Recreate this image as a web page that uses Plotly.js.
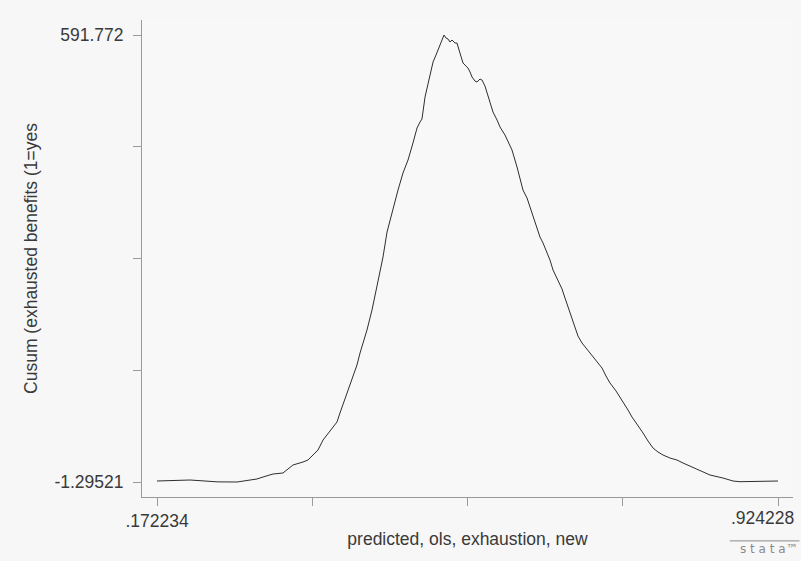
<!DOCTYPE html>
<html>
<head>
<meta charset="utf-8">
<script src="https://cdn.plot.ly/plotly-3.0.1.min.js"></script>
<style>html,body{margin:0;padding:0;background:#f7f7f7;}#chart{width:801px;height:561px;}</style>
</head>
<body>
<div id="chart"></div>
<script>
// predicted, ols, exhaustion, new
const predicted = [
0.1722,0.1940,0.2122,0.2304,0.2449,0.2691,0.2849,0.2933,0.3006,0.3127,
0.3248,0.3309,0.3369,0.3490,0.3551,0.3611,0.3672,0.3733,0.3781,0.3854,
0.3902,0.3938,0.3987,0.4023,0.4059,0.4096,0.4144,0.4181,0.4229,0.4265,
0.4326,0.4386,0.4423,0.4459,0.4508,0.4544,0.4580,0.4641,0.4701,0.4762,
0.4822,0.4871,0.4907,0.4931,0.4968,0.5004,0.5040,0.5065,0.5101,0.5125,
0.5149,0.5174,0.5198,0.5222,0.5246,0.5270,0.5295,0.5331,0.5355,0.5391,
0.5428,0.5464,0.5488,0.5513,0.5537,0.5573,0.5597,0.5634,0.5658,0.5694,
0.5718,0.5755,0.5791,0.5840,0.5876,0.5936,0.5973,0.6021,0.6082,0.6118,
0.6154,0.6203,0.6239,0.6300,0.6360,0.6397,0.6445,0.6481,0.6518,0.6578,
0.6627,0.6663,0.6699,0.6748,0.6784,0.6820,0.6869,0.6917,0.6966,0.7038,
0.7111,0.7159,0.7208,0.7281,0.7353,0.7426,0.7474,0.7535,0.7608,0.7668,
0.7729,0.7789,0.7850,0.7934,0.8019,0.8092,0.8177,0.8298,0.8419,0.8576,
0.8697,0.8782,0.8903,0.8988,0.9121,0.9242
];
// Cusum (exhausted benefits (1=yes
const cusum = [
0.03,0.69,1.36,0.03,-1.10,-1.30,0.69,2.69,5.34,9.32,
10.65,15.95,21.26,25.24,27.89,34.53,41.16,54.43,61.06,70.35,
78.31,90.25,104.85,116.79,127.40,138.02,153.94,169.86,187.11,200.38,
226.91,257.42,279.98,297.23,330.40,346.32,359.58,386.12,408.68,425.93,
448.48,468.38,476.34,480.32,509.51,528.08,542.68,555.95,565.24,571.87,
578.50,585.14,591.77,587.79,586.46,582.48,585.14,581.16,581.16,567.89,
554.62,550.64,547.99,542.68,536.04,530.73,529.41,533.39,532.06,524.10,
514.82,501.55,489.61,478.99,469.71,459.09,451.13,439.19,416.64,402.04,
386.12,375.50,363.56,342.34,323.76,315.80,302.53,293.24,279.98,266.72,
254.77,242.83,230.89,216.29,204.35,192.41,183.12,176.49,169.86,160.57,
149.96,139.34,130.05,119.44,107.50,94.23,84.94,75.66,63.72,53.10,
43.81,38.51,34.53,30.55,27.89,23.91,19.93,14.63,7.99,4.01,
0.03,-0.90,-0.60,-0.20,-0.10,0.00
];
const xTickVals = [0.172234, 0.3602325, 0.548231, 0.7362295, 0.924228];
const xTickText = ['.172234', '', '', '', ''];
const xLastLabel = '.924228';
const yTickVals = [-1.29521, 146.97159, 295.23839, 443.50520, 591.772];
const yTickText = ['-1.29521', '', '', '', '591.772'];

const font = {family: 'Liberation Sans, Arial, sans-serif', size: 17.5, color: '#3a3a3a'};

Plotly.newPlot('chart', [{
  x: predicted, y: cusum, type: 'scatter', mode: 'lines',
  line: {color: '#2e2e2e', width: 1}, hoverinfo: 'skip'
}], {
  width: 801, height: 561,
  margin: {l: 142, r: 8, t: 20, b: 64, pad: 0},
  paper_bgcolor: '#f7f7f7', plot_bgcolor: '#f8f8f8',
  showlegend: false,
  font: font,
  xaxis: {
    range: [0.15407, 0.94239], showgrid: false, zeroline: false,
    showline: true, linecolor: '#9a9a9a', linewidth: 1,
    ticks: 'outside', ticklen: 8, tickcolor: '#9a9a9a', tickwidth: 1,
    tickmode: 'array', tickvals: xTickVals, ticktext: xTickText,
    tickfont: font, ticklabelstandoff: 0,
    title: {text: 'predicted, ols, exhaustion, new', font: font, standoff: 2}
  },
  yaxis: {
    range: [-21.2, 611.7], showgrid: false, zeroline: false,
    showline: true, linecolor: '#9a9a9a', linewidth: 1,
    ticks: 'outside', ticklen: 8, tickcolor: '#9a9a9a', tickwidth: 1,
    tickmode: 'array', tickvals: yTickVals, ticktext: yTickText,
    tickfont: font, ticklabelstandoff: 6,
    title: {text: 'Cusum (exhausted benefits (1=yes', font: font, standoff: 12}
  },
  shapes: [
    {type: 'line', xref: 'paper', yref: 'paper', x0: 0.903, x1: 1.01, y0: -0.092, y1: -0.092, line: {color: '#8a8a8a', width: 1}}
  ],
  annotations: [
    {
      xref: 'x', yref: 'paper', x: xTickVals[4], y: 0, xanchor: 'center', yanchor: 'top',
      xshift: -16, yshift: -9, text: xLastLabel, showarrow: false, font: font
    },
    {
      xref: 'paper', yref: 'paper', x: 1.01, y: -0.11, xanchor: 'right', yanchor: 'middle',
      text: 's t a t a™', showarrow: false,
      font: {family: 'DejaVu Sans, sans-serif', size: 12, color: '#8a8a8a'}
    }
  ]
}, {displayModeBar: false, staticPlot: true});
</script>
</body>
</html>
